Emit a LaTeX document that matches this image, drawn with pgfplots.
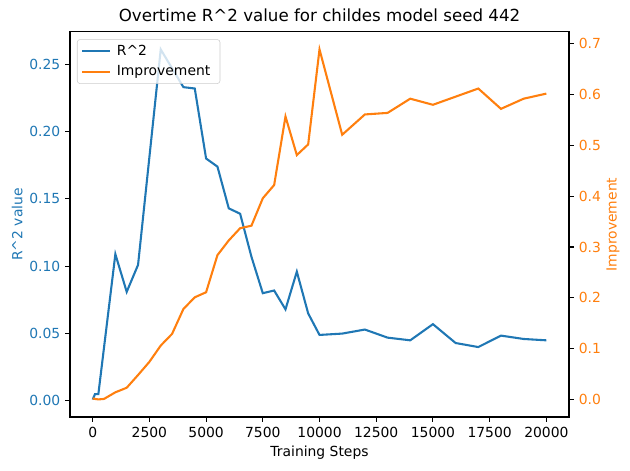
\documentclass[border=0pt]{standalone}
\usepackage{fontspec}
\setmainfont{DejaVu Sans}
\usepackage{pgfplots}
\pgfplotsset{compat=1.18}
\definecolor{c0}{HTML}{1F77B4}
\definecolor{c1}{HTML}{FF7F0E}

\pgfplotsset{
  mplbase/.style={
    width=359.3pt, height=277.2pt, scale only axis,
    xmin=-1000, xmax=21000,
    scaled x ticks=false, scaled y ticks=false,
    axis line style={line width=0.8pt},
    tick style={line width=0.8pt, black},
    major tick length=3.5pt,
    tick align=outside,
    tick label style={font=\fontsize{10}{12}\selectfont},
    label style={font=\fontsize{10}{12}\selectfont},
    /pgf/number format/assume math mode=true,
    /pgf/number format/1000 sep={},
  }
}

\begin{document}
\begin{tikzpicture}
  % left axis: R^2
  \begin{axis}[
    mplbase,
    ymin=-0.0119, ymax=0.274,
    xtick={0,2500,5000,7500,10000,12500,15000,17500,20000},
    ytick={0,0.05,0.10,0.15,0.20,0.25},
    yticklabel style={c0, /pgf/number format/fixed, /pgf/number format/fixed zerofill, /pgf/number format/precision=2},
    xtick pos=bottom, ytick pos=left,
    xlabel={Training Steps},
    ylabel={R\textasciicircum 2 value},
    every axis y label/.style={at={([xshift=-38pt]axis description cs:0,0.5)}, rotate=90, anchor=center, c0, font=\fontsize{10}{12}\selectfont},
    every axis x label/.style={at={([yshift=-26pt]axis description cs:0.5,0)}, anchor=center, font=\fontsize{10}{12}\selectfont},
    title={Overtime R\textasciicircum 2 value for childes model seed 442},
    every axis title/.style={font=\fontsize{12}{14}\selectfont, at={(axis description cs:0.5,1)}, anchor=south, yshift=4pt},
  ]
    \addplot[c0, line width=1.5pt] coordinates {
      (0,0.001) (100,0.005) (250,0.005) (1000,0.109) (1500,0.081)
      (2000,0.101) (3000,0.261) (4000,0.233) (4500,0.232) (5000,0.180)
      (5500,0.174) (6000,0.143) (6500,0.139) (7000,0.107) (7500,0.080)
      (8000,0.082) (8500,0.068) (9000,0.096) (9500,0.065) (10000,0.049)
      (11000,0.050) (12000,0.053) (13000,0.047) (14000,0.045) (15000,0.057)
      (16000,0.043) (17000,0.040) (18000,0.0485) (19000,0.046) (20000,0.045)
    };
  \end{axis}

  % right axis: improvement
  \begin{axis}[
    mplbase,
    ymin=-0.0345, ymax=0.7234,
    axis x line=none,
    axis y line*=right,
    ytick={0,0.1,0.2,0.3,0.4,0.5,0.6,0.7},
    yticklabel style={c1, /pgf/number format/fixed, /pgf/number format/fixed zerofill, /pgf/number format/precision=1},
    ylabel={Improvement},
    every axis y label/.style={at={([xshift=31.7pt]axis description cs:1,0.5)}, rotate=90, anchor=center, c1, font=\fontsize{10}{12}\selectfont},
    legend style={at={(axis description cs:0.014,0.981)}, anchor=north west,
      draw=black!20, rounded corners=2pt, fill=white, fill opacity=0.8, text opacity=1,
      font=\fontsize{10}{12}\selectfont, inner xsep=3pt, inner ysep=2pt, row sep=2pt,
      nodes={inner xsep=4pt}},
    legend cell align=left,
    legend image code/.code={\draw[#1, line width=1.5pt] (0pt,0pt) -- (20pt,0pt);},
  ]
    \addlegendimage{c0}
    \addlegendentry{R\textasciicircum 2}
    \addplot[c1, line width=1.5pt] coordinates {
      (0,0.002) (100,0.001) (250,0.0) (500,0.001) (1000,0.014) (1500,0.023)
      (2000,0.048) (2500,0.074) (3000,0.106) (3500,0.129) (4000,0.178)
      (4500,0.201) (5000,0.211) (5500,0.284) (6000,0.313) (6500,0.337)
      (7000,0.342) (7500,0.396) (8000,0.422) (8500,0.557) (9000,0.481)
      (9500,0.502) (10000,0.689) (11000,0.521) (12000,0.561) (13000,0.564)
      (14000,0.592) (15000,0.580) (16000,0.596) (17000,0.612) (18000,0.572)
      (19000,0.592) (20000,0.602)
    };
    \addlegendentry{Improvement}
  \end{axis}

  \pgfresetboundingbox
  \path[use as bounding box] (-50.4pt,-38.2pt) rectangle (403.2pt,300.2pt);
\end{tikzpicture}
\end{document}
